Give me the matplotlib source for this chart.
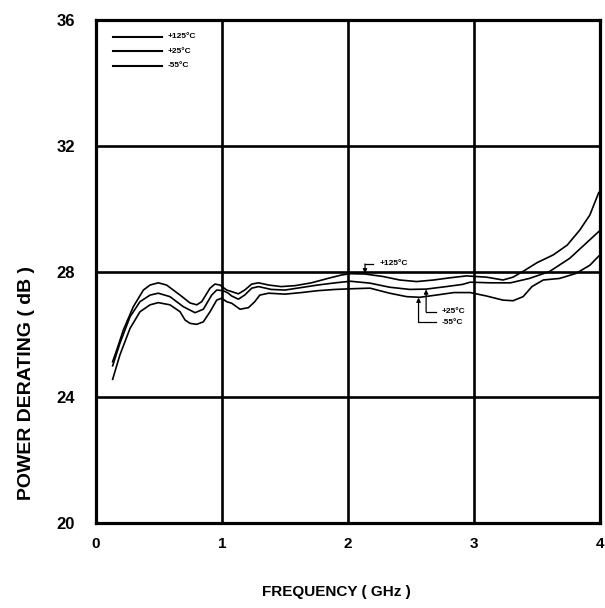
import matplotlib
matplotlib.use('Agg')
import matplotlib.pyplot as plt

# ── data ────────────────────────────────────────────────────────────────────
freq_125 = [0.132, 0.164, 0.217, 0.296, 0.376, 0.429, 0.494, 0.56, 0.667, 0.746,
            0.8, 0.839, 0.905, 0.944, 0.984, 1.037, 1.077, 1.13, 1.18, 1.236,
            1.29, 1.37, 1.47, 1.58, 1.71, 1.84, 1.95, 2.02, 2.135, 2.28,
            2.41, 2.545, 2.68, 2.81, 2.94, 3.10, 3.23, 3.31, 3.40, 3.50,
            3.63, 3.74, 3.84, 3.92, 3.99]
db_125 = [25.13, 25.5, 26.14, 26.88, 27.41, 27.57, 27.64, 27.57, 27.25, 27.0,
          26.94, 27.04, 27.47, 27.6, 27.57, 27.41, 27.36, 27.29, 27.41, 27.6,
          27.64, 27.57, 27.52, 27.55, 27.64, 27.78, 27.89, 27.93, 27.92, 27.84,
          27.73, 27.68, 27.73, 27.8, 27.86, 27.82, 27.73, 27.82, 28.03, 28.28,
          28.53, 28.84, 29.32, 29.8, 30.51]

freq_25 = [0.132, 0.19, 0.27, 0.349, 0.429, 0.494, 0.587, 0.693, 0.786, 0.852,
           0.918, 0.958, 1.01, 1.05, 1.077, 1.13, 1.18, 1.236, 1.29, 1.39,
           1.5, 1.63, 1.76, 1.9, 2.02, 2.175, 2.33, 2.49, 2.62, 2.78,
           2.91, 2.97, 3.13, 3.29, 3.44, 3.60, 3.76, 3.89, 3.99]
db_25 = [25.0, 25.72, 26.56, 27.04, 27.25, 27.31, 27.2, 26.88, 26.69, 26.8,
         27.25, 27.41, 27.39, 27.31, 27.22, 27.12, 27.25, 27.47, 27.52, 27.43,
         27.41, 27.49, 27.57, 27.64, 27.69, 27.63, 27.5, 27.43, 27.44, 27.52,
         27.59, 27.66, 27.64, 27.64, 27.78, 28.0, 28.42, 28.9, 29.27]

freq_m55 = [0.132, 0.19, 0.27, 0.349, 0.429, 0.494, 0.587, 0.667, 0.706, 0.746,
            0.8, 0.852, 0.905, 0.958, 0.997, 1.037, 1.077, 1.143, 1.21, 1.26,
            1.3, 1.37, 1.5, 1.63, 1.76, 1.9, 2.02, 2.175, 2.33, 2.466,
            2.57, 2.7, 2.84, 2.97, 3.10, 3.23, 3.31, 3.39, 3.46, 3.55,
            3.68, 3.81, 3.92, 3.99]
db_m55 = [24.57, 25.35, 26.19, 26.72, 26.94, 27.01, 26.94, 26.72, 26.46, 26.35,
          26.32, 26.4, 26.72, 27.09, 27.15, 27.04, 26.99, 26.8, 26.85, 27.04,
          27.25, 27.31, 27.28, 27.33, 27.39, 27.43, 27.45, 27.47, 27.31, 27.2,
          27.18, 27.25, 27.33, 27.33, 27.22, 27.09, 27.07, 27.2, 27.52, 27.73,
          27.78, 27.94, 28.2, 28.49]

labels = ['+125°C', '+25°C', '-55°C']
x_ticks = [0, 1, 2, 3, 4]
y_ticks = [20, 24, 28, 32, 36]

FONT = ['Liberation Sans Narrow', 'Liberation Sans', 'DejaVu Sans']
plt.rcParams['font.family'] = FONT
plt.rcParams['font.weight'] = 'bold'

# ── figure ───────────────────────────────────────────────────────────────────
fig = plt.figure(figsize=(6.05, 6.08), dpi=100)
ax = fig.add_axes([0.1587, 0.1398, 0.8330, 0.8273])

ax.set_xlim(0, 4)
ax.set_ylim(20, 36)
ax.set_xticks(x_ticks)
ax.set_yticks(y_ticks)
ax.set_xticklabels([str(t) for t in x_ticks], fontsize=11, fontweight='bold')
ax.set_yticklabels([str(t) for t in y_ticks], fontsize=12, fontweight='bold')
ax.tick_params(length=0)
ax.tick_params(axis='x', pad=10)
ax.tick_params(axis='y', pad=15)

ax.grid(True, color='black', linewidth=1.9)
ax.set_axisbelow(True)
for sp in ax.spines.values():
    sp.set_linewidth(2.3)

for f, d in [(freq_125, db_125), (freq_25, db_25), (freq_m55, db_m55)]:
    ax.plot(f, d, color='black', linewidth=1.2, zorder=3)

# legend drawn as plain lines + text in the upper-left corner
for i, lab in enumerate(labels):
    yy = 35.47 - i * 0.465
    ax.plot([0.132, 0.52], [yy, yy], color='black', linewidth=1.5, zorder=3)
    ax.text(0.565, yy, lab, fontsize=6, fontweight='bold', va='center', ha='left')

# callouts
arrow = dict(arrowstyle='-|>', color='black', lw=0.9, mutation_scale=6,
             shrinkA=0, shrinkB=0)
ax.plot([2.2, 2.135], [28.24, 28.24], color='black', lw=0.9)
ax.annotate('', xy=(2.135, 27.94), xytext=(2.135, 28.24), arrowprops=arrow)
ax.text(2.25, 28.24, labels[0], fontsize=6, fontweight='bold', va='center')

ax.plot([2.70, 2.62], [26.72, 26.72], color='black', lw=0.9)
ax.annotate('', xy=(2.62, 27.43), xytext=(2.62, 26.72), arrowprops=arrow)
ax.text(2.74, 26.72, labels[1], fontsize=6, fontweight='bold', va='center')

ax.plot([2.70, 2.56], [26.38, 26.38], color='black', lw=0.9)
ax.annotate('', xy=(2.56, 27.17), xytext=(2.56, 26.38), arrowprops=arrow)
ax.text(2.74, 26.38, labels[2], fontsize=6, fontweight='bold', va='center')

# axis titles placed directly on the figure
fig.text(0.556, 0.026, 'FREQUENCY ( GHz )', fontsize=11, fontweight='bold',
         ha='center', va='center')
fig.text(0.044, 0.370, 'POWER DERATING ( dB )', fontsize=14, fontweight='bold',
         ha='center', va='center', rotation=90)

fig.savefig('out.png', dpi=100)
